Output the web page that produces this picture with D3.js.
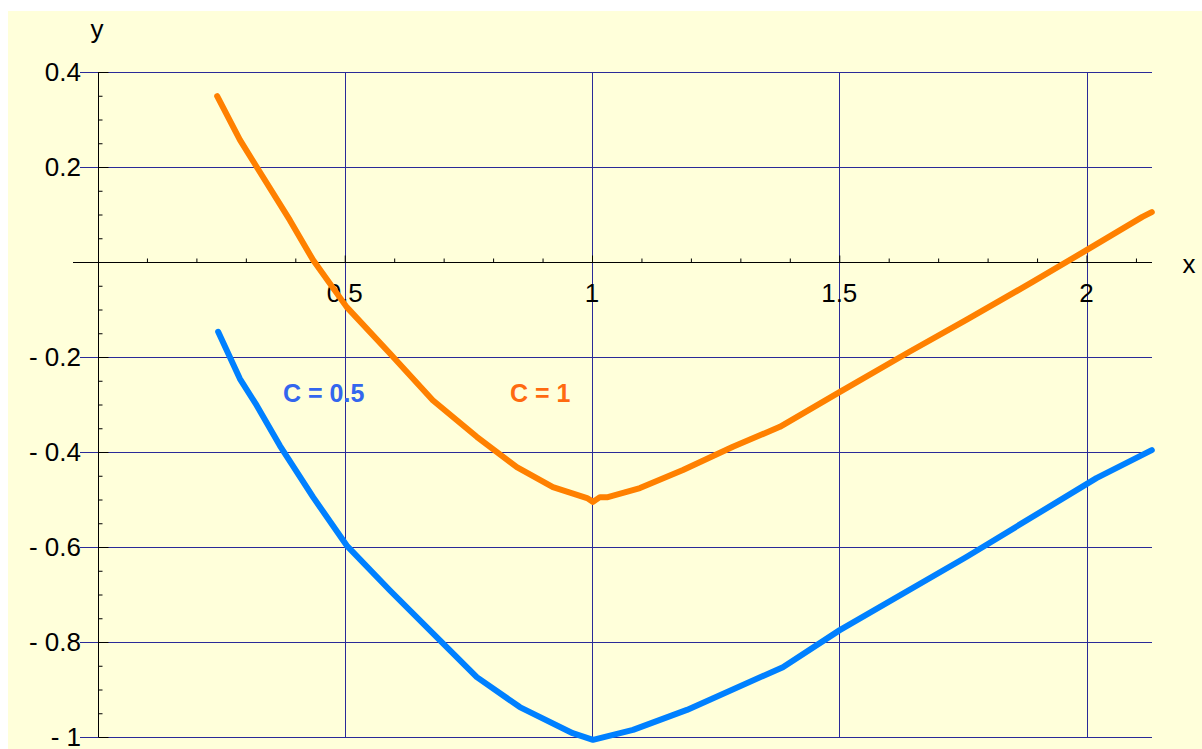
<!DOCTYPE html>
<html>
<head>
<meta charset="utf-8">
<script src="https://cdn.jsdelivr.net/npm/d3@7"></script>
<style>
  body { margin: 0; background: #fff; }
  text { font-family: "Liberation Sans", Arial, sans-serif; }
</style>
</head>
<body>
<div id="chart"></div>
<script>
var svgWidth = 1202;
var svgHeight = 749;

// data
var xTicks = [0.5, 1, 1.5, 2];
var xTickLabels = ["0.5", "1", "1.5", "2"];
var yTicks = [0.4, 0.2, -0.2, -0.4, -0.6, -0.8, -1];
var yTickLabels = ["0.4", "0.2", "- 0.2", "- 0.4", "- 0.6", "- 0.8", "- 1"];

var c1X = [0.242, 0.288, 0.322, 0.389, 0.436, 0.504, 0.591, 0.678, 0.767, 0.848, 0.921, 0.990, 1.002, 1.016, 1.032, 1.097, 1.184, 1.285, 1.380, 1.497, 1.642, 1.757, 1.891, 2.000, 2.113, 2.132];
var c1Y = [0.349, 0.257, 0.200, 0.088, 0.004, -0.095, -0.192, -0.291, -0.368, -0.432, -0.474, -0.497, -0.505, -0.495, -0.495, -0.476, -0.438, -0.389, -0.347, -0.276, -0.189, -0.122, -0.042, 0.025, 0.095, 0.105];

var c05X = [0.244, 0.288, 0.322, 0.369, 0.436, 0.504, 0.591, 0.692, 0.767, 0.854, 0.961, 1.002, 1.083, 1.192, 1.386, 1.501, 1.757, 2.020, 2.132];
var c05Y = [-0.147, -0.246, -0.302, -0.387, -0.495, -0.597, -0.691, -0.796, -0.874, -0.937, -0.992, -1.006, -0.985, -0.943, -0.853, -0.775, -0.621, -0.455, -0.396];

var svg = d3.select("#chart")
  .append("svg")
    .attr("width", svgWidth)
    .attr("height", svgHeight);

// yellow plot area
svg.append("rect")
  .attr("x", 8).attr("y", 11)
  .attr("width", svgWidth - 8).attr("height", svgHeight - 11)
  .attr("fill", "#ffffda");

var x = d3.scaleLinear().domain([0, 2]).range([97.5, 1086.5]);
var y = d3.scaleLinear().domain([-1, 0.4]).range([737, 72]);
var xEnd = 1152;

function px(v) { return Math.round(v) + 0.5; }

// grid
svg.append("g").selectAll("line")
  .data(yTicks).enter().append("line")
  .attr("x1", 80).attr("x2", xEnd)
  .attr("y1", d => px(y(d))).attr("y2", d => px(y(d)))
  .attr("stroke", "#2a2a98").attr("stroke-width", 1);

svg.append("g").selectAll("line")
  .data(xTicks).enter().append("line")
  .attr("x1", d => px(x(d))).attr("x2", d => px(x(d)))
  .attr("y1", y(0.4)).attr("y2", y(-1))
  .attr("stroke", "#2a2a98").attr("stroke-width", 1);

// x axis with minor ticks pointing up
var xMinor = d3.range(1, 22).map(d => d / 10);
var xAxis = svg.append("g")
  .attr("transform", "translate(0," + px(y(0)) + ")")
  .call(d3.axisTop(x).tickValues(xMinor).tickFormat("").tickSizeOuter(0).tickSize(4));
xAxis.select(".domain").remove();
xAxis.selectAll(".tick line")
  .attr("y2", d => (Math.abs(d * 2 - Math.round(d * 2)) < 1e-6) ? -7 : -4)
  .attr("stroke", "#000");
xAxis.append("line")
  .attr("x1", 73).attr("x2", xEnd).attr("y1", 0).attr("y2", 0)
  .attr("stroke", "#000");

// y axis with minor ticks pointing right
var yMinor = d3.range(-20, 9).map(d => d / 20);
var yAxis = svg.append("g")
  .attr("transform", "translate(" + px(x(0)) + ",0)")
  .call(d3.axisRight(y).tickValues(yMinor).tickFormat("").tickSizeOuter(0).tickSize(4));
yAxis.select(".domain").remove();
yAxis.selectAll(".tick line")
  .attr("x2", d => (Math.abs(d * 5 - Math.round(d * 5)) < 1e-6) ? 10 : 4)
  .attr("stroke", "#000");
yAxis.append("line")
  .attr("x1", 0).attr("x2", 0).attr("y1", y(0.4)).attr("y2", y(-1))
  .attr("stroke", "#000");

// tick labels
svg.append("g").selectAll("text")
  .data(xTicks).enter().append("text")
  .attr("x", d => x(d))
  .attr("y", 302)
  .attr("text-anchor", "middle")
  .attr("font-size", 26)
  .text((d, i) => xTickLabels[i]);

svg.append("g").selectAll("text")
  .data(yTicks).enter().append("text")
  .attr("x", 81)
  .attr("y", d => y(d) + 9)
  .attr("text-anchor", "end")
  .attr("font-size", 26)
  .text((d, i) => yTickLabels[i]);

// axis titles
svg.append("text").attr("x", 97).attr("y", 38)
  .attr("text-anchor", "middle").attr("font-size", 26).text("y");
svg.append("text").attr("x", 1189).attr("y", 273)
  .attr("text-anchor", "middle").attr("font-size", 26).text("x");

// curves
var line = d3.line().x(d => x(d[0])).y(d => y(d[1]));

svg.append("path")
  .datum(c05X.map((v, i) => [v, c05Y[i]]))
  .attr("d", line)
  .attr("fill", "none")
  .attr("stroke", "#0080ff")
  .attr("stroke-width", 6)
  .attr("stroke-linecap", "round")
  .attr("stroke-linejoin", "round");

svg.append("path")
  .datum(c1X.map((v, i) => [v, c1Y[i]]))
  .attr("d", line)
  .attr("fill", "none")
  .attr("stroke", "#ff8000")
  .attr("stroke-width", 6)
  .attr("stroke-linecap", "round")
  .attr("stroke-linejoin", "round");

// curve labels
svg.append("text").attr("x", 283).attr("y", 402)
  .attr("font-size", 25).attr("font-weight", "bold")
  .attr("fill", "#3366ee").text("C = 0.5");
svg.append("text").attr("x", 510).attr("y", 402)
  .attr("font-size", 25).attr("font-weight", "bold")
  .attr("fill", "#ff6a10").text("C = 1");
</script>
</body>
</html>
